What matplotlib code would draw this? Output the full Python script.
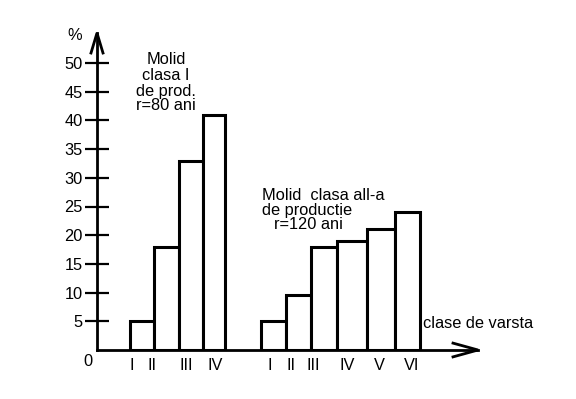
import numpy as np
import matplotlib.pyplot as plt

plt.rcParams['font.family'] = ['Liberation Sans', 'DejaVu Sans']

# data
cls1 = ['I', 'II', 'III', 'IV']
val1 = [5, 18, 33, 41]
cls2 = ['I', 'II', 'III', 'IV', 'V', 'VI']
val2 = [5, 9.5, 18, 19, 21, 24]
yticks = [5, 10, 15, 20, 25, 30, 35, 40, 45, 50]

# layout (x in pixels from the y axis)
left1 = [33, 57, 82, 106]
wid1 = [24, 25, 24, 22]
lab1 = [35, 55, 89, 118]
left2 = [164, 189, 214, 240, 270, 298]
wid2 = [25, 25, 26, 30, 28, 25]
lab2 = [173, 194, 216, 250, 282, 315]

W, H = 576, 399
fig = plt.figure(figsize=(W / 100, H / 100), dpi=100)
ax = fig.add_axes([97 / W, 49 / H, 381 / W, 317 / H])
ax.set_xlim(0, 381)
ax.set_ylim(0, 317 / 5.74)

ax.bar(left1, val1, width=wid1, align='edge', color='white',
       edgecolor='black', linewidth=2.2, zorder=3)
ax.bar(left2, val2, width=wid2, align='edge', color='white',
       edgecolor='black', linewidth=2.2, zorder=3)

for s in ['top', 'right']:
    ax.spines[s].set_visible(False)
for s in ['left', 'bottom']:
    ax.spines[s].set_linewidth(2)

ax.set_yticks(yticks)
ax.tick_params(axis='y', direction='inout', length=17, width=1.6,
               labelsize=11.8, pad=2)
ax.set_xticks(lab1 + lab2)
ax.set_xticklabels(cls1 + cls2)
ax.tick_params(axis='x', length=0, labelsize=11.8, pad=6)

# arrow heads
ytop = 317 / 5.74
ax.plot([-6, 0, 6], [ytop - 20 / 5.74, ytop, ytop - 20 / 5.74],
        color='black', lw=2, clip_on=False, solid_joinstyle='miter')
ax.plot([356, 381, 356], [1.2, 0, -1.2], color='black', lw=2,
        clip_on=False, solid_joinstyle='miter')

def px(x, y):
    return (x / W, 1 - y / H)

tf = fig.transFigure
fig.text(*px(75, 35), '%', transform=tf, fontsize=11.8, ha='center', va='center')
fig.text(*px(88, 361), '0', transform=tf, fontsize=11.8, ha='center', va='center')

for s, y in zip(['Molid', 'clasa I', 'de prod.', 'r=80 ani'], [60, 76, 91.5, 106]):
    fig.text(*px(166, y), s, transform=tf, fontsize=11.8, ha='center', va='center')

fig.text(*px(262, 195), 'Molid  clasa all-a', transform=tf, fontsize=11.8, va='center')
fig.text(*px(262, 210.5), 'de productie', transform=tf, fontsize=11.8, va='center')
fig.text(*px(274, 224.5), 'r=120 ani', transform=tf, fontsize=11.8, va='center')
fig.text(*px(423, 324), 'clase de varsta', transform=tf, fontsize=11.8, va='center')

fig.savefig('out.png', dpi=100, facecolor='white')
